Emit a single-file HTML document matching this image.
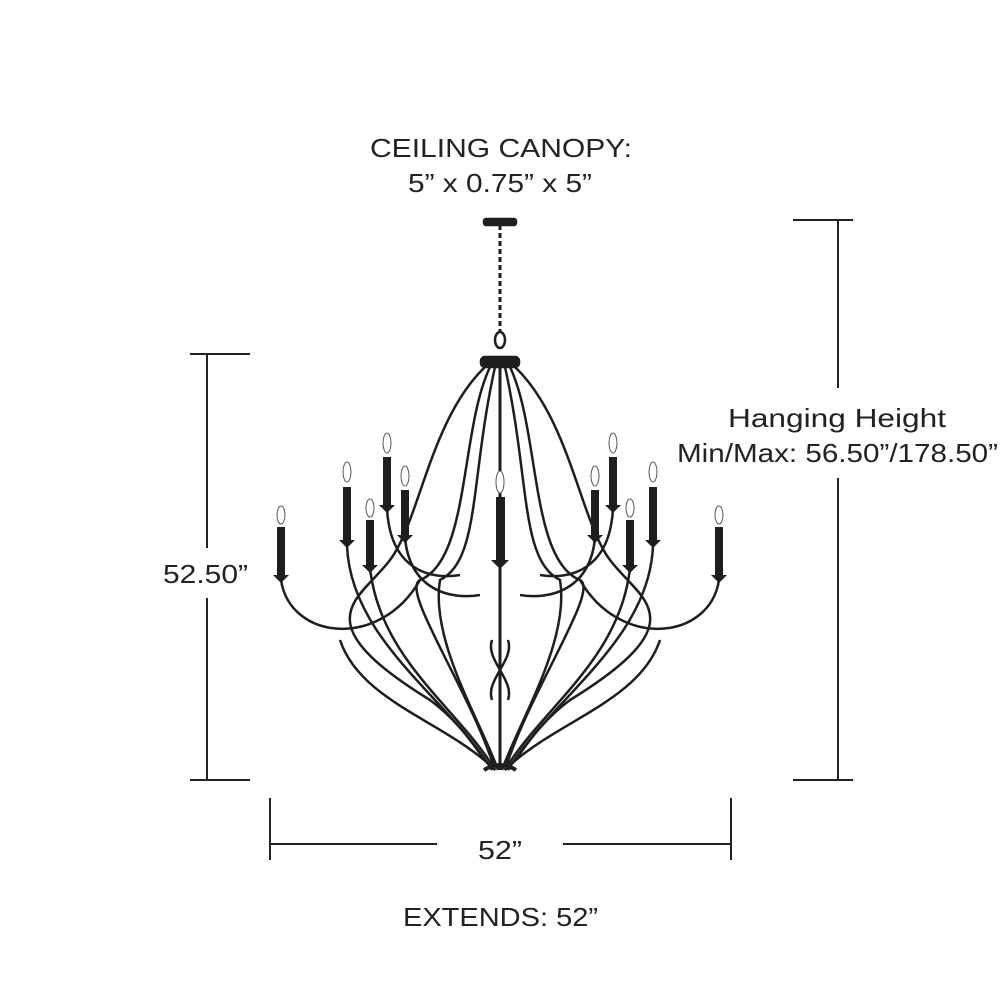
<!DOCTYPE html>
<html><head><meta charset="utf-8"><style>
html,body{margin:0;padding:0;background:#fff}
svg{display:block}
text{font-family:"Liberation Sans",sans-serif;fill:#222;font-size:26px}
</style></head><body>
<svg width="1000" height="1000" viewBox="0 0 1000 1000">
<g stroke="#222" stroke-width="2" fill="none">
<line x1="190" y1="354" x2="250" y2="354"/><line x1="190" y1="780" x2="250" y2="780"/>
<line x1="207" y1="354" x2="207" y2="548"/><line x1="207" y1="598" x2="207" y2="780"/>
<line x1="793" y1="220" x2="853" y2="220"/><line x1="793" y1="780" x2="853" y2="780"/>
<line x1="838" y1="220" x2="838" y2="388"/><line x1="838" y1="478" x2="838" y2="780"/>
<line x1="270" y1="798" x2="270" y2="860"/><line x1="731" y1="798" x2="731" y2="860"/>
<line x1="270" y1="844" x2="437" y2="844"/><line x1="563" y1="844" x2="731" y2="844"/>
</g>
<text x="370" y="157" textLength="262" lengthAdjust="spacingAndGlyphs">CEILING CANOPY:</text>
<text x="408" y="192" textLength="184" lengthAdjust="spacingAndGlyphs">5” x 0.75” x 5”</text>
<text x="163" y="583" textLength="85" lengthAdjust="spacingAndGlyphs">52.50”</text>
<text x="728" y="427" textLength="218" lengthAdjust="spacingAndGlyphs">Hanging Height</text>
<text x="677" y="462" textLength="321" lengthAdjust="spacingAndGlyphs">Min/Max: 56.50”/178.50”</text>
<text x="478" y="859" textLength="44" lengthAdjust="spacingAndGlyphs">52”</text>
<text x="403" y="926" textLength="195" lengthAdjust="spacingAndGlyphs">EXTENDS: 52”</text>

<g stroke="#1e1e1e" fill="none" stroke-width="2.5">
<rect x="484" y="219" width="32" height="6" rx="2" fill="#1e1e1e"/>
<line x1="500" y1="225" x2="500" y2="332" stroke-dasharray="5,3" stroke-width="3"/>
<ellipse cx="500" cy="340" rx="5" ry="8"/>
<rect x="481" y="357" width="38" height="10" rx="4" fill="#1e1e1e"/>
<line x1="500" y1="367" x2="500" y2="770" stroke-width="3"/>
<path d="M485 367 C430 420 420 520 390 560 C360 600 300 620 430 700 C470 730 480 760 495 770"/>
<path d="M515 367 C570 420 580 520 610 560 C640 600 700 620 570 700 C530 730 520 760 505 770"/>
<path d="M490 367 C460 430 470 560 420 580 C400 590 470 690 495 770"/>
<path d="M510 367 C540 430 530 560 580 580 C600 590 530 690 505 770"/>
<path d="M495 367 C470 480 480 560 440 580 C430 640 480 720 498 770"/>
<path d="M505 367 C530 480 520 560 560 580 C570 640 520 720 502 770"/>
<path d="M281 580 C290 640 380 650 420 580"/>
<path d="M719 580 C710 640 620 650 580 580"/>
<path d="M347 545 C350 640 450 700 492 770"/>
<path d="M653 545 C650 640 550 700 508 770"/>
<path d="M370 568 C380 660 460 710 495 770"/>
<path d="M630 568 C620 660 540 710 505 770"/>
<path d="M340 640 C360 700 440 720 490 765"/>
<path d="M660 640 C640 700 560 720 510 765"/>
<path d="M387 508 C390 570 430 580 460 575"/>
<path d="M613 508 C610 570 570 580 540 575"/>
<path d="M405 538 C410 590 450 600 480 595"/>
<path d="M595 538 C590 590 550 600 520 595"/>
<path d="M492 640 C485 660 515 680 508 700 M508 640 C515 660 485 680 492 700"/>
<path d="M484 770 Q500 760 516 770" stroke-width="4"/>
</g>
<g fill="#1e1e1e">
<rect x="277" y="527" width="8" height="48"/><path d="M273 575 h16 l-8 8z"/><ellipse cx="281" cy="515" rx="4" ry="9" fill="#fff" stroke="#555"/>
<rect x="343" y="487" width="8" height="53"/><path d="M339 540 h16 l-8 8z"/><ellipse cx="347" cy="472" rx="4" ry="10" fill="#fff" stroke="#555"/>
<rect x="383" y="457" width="8" height="48"/><path d="M379 505 h16 l-8 8z"/><ellipse cx="387" cy="443" rx="4" ry="10" fill="#fff" stroke="#555"/>
<rect x="366" y="520" width="8" height="45"/><path d="M362 565 h16 l-8 8z"/><ellipse cx="370" cy="508" rx="4" ry="9" fill="#fff" stroke="#555"/>
<rect x="401" y="490" width="8" height="45"/><path d="M397 535 h16 l-8 8z"/><ellipse cx="405" cy="476" rx="4" ry="10" fill="#fff" stroke="#555"/>
<rect x="496" y="497" width="9" height="63"/><path d="M491 560 h18 l-9 9z"/><ellipse cx="500" cy="482" rx="4" ry="11" fill="#fff" stroke="#555"/>
<rect x="715" y="527" width="8" height="48"/><path d="M711 575 h16 l-8 8z"/><ellipse cx="719" cy="515" rx="4" ry="9" fill="#fff" stroke="#555"/>
<rect x="649" y="487" width="8" height="53"/><path d="M645 540 h16 l-8 8z"/><ellipse cx="653" cy="472" rx="4" ry="10" fill="#fff" stroke="#555"/>
<rect x="609" y="457" width="8" height="48"/><path d="M605 505 h16 l-8 8z"/><ellipse cx="613" cy="443" rx="4" ry="10" fill="#fff" stroke="#555"/>
<rect x="626" y="520" width="8" height="45"/><path d="M622 565 h16 l-8 8z"/><ellipse cx="630" cy="508" rx="4" ry="9" fill="#fff" stroke="#555"/>
<rect x="591" y="490" width="8" height="45"/><path d="M587 535 h16 l-8 8z"/><ellipse cx="595" cy="476" rx="4" ry="10" fill="#fff" stroke="#555"/>
</g>
</svg>
</body></html>
